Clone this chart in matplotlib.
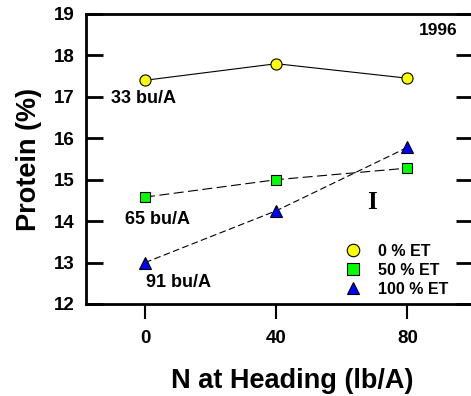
import matplotlib
matplotlib.use('Agg')
import matplotlib.pyplot as plt
from matplotlib.lines import Line2D

plt.rcParams['font.family'] = 'Liberation Sans'
plt.rcParams['font.weight'] = 'bold'

n_rate = [0, 40, 80]
et_0 = [17.4, 17.8, 17.45]
et_50 = [14.58, 15.0, 15.28]
et_100 = [13.0, 14.25, 15.78]
labels = ['0 % ET', '50 % ET', '100 % ET']
yields = ['33 bu/A', '65 bu/A', '91 bu/A']

W, H = 471, 396
fig = plt.figure(figsize=(W / 100, H / 100), dpi=100)
ax = fig.add_axes([86 / W, (H - 304) / H, (473 - 86) / W, 290 / H])

ax.plot(n_rate, et_0, '-', color='black', lw=0.8, marker='o', ms=8,
        mfc='#ffff00', mec='black', mew=0.8)
ax.plot(n_rate, et_50, color='black', lw=0.8, dashes=(9, 4), marker='s', ms=7.5,
        mfc='#00ff00', mec='black', mew=0.8)
ax.plot(n_rate, et_100, color='black', lw=0.8, dashes=(6, 3), marker='^', ms=9,
        mfc='#0000ff', mec='black', mew=0.8)

ax.set_xlim(-18, 100)
ax.set_ylim(12, 19)
ax.set_xticks(n_rate)
ax.set_yticks(range(12, 20))

for s in ['left', 'bottom', 'top']:
    ax.spines[s].set_linewidth(2)
ax.spines['right'].set_visible(False)
ax.tick_params(axis='y', direction='in', length=12, width=2, labelsize=13.5,
               right=True, pad=8)
ax.tick_params(axis='x', direction='out', length=11, width=1.5, labelsize=13.5, pad=8)

ax.set_xlabel('N at Heading (lb/A)', fontsize=19.5, fontweight='bold')
ax.set_ylabel('Protein (%)', fontsize=19.5, fontweight='bold', labelpad=9)
ax.xaxis.set_label_coords(0.532, -0.222, transform=ax.transAxes)

ax.text(-0.6, 16.95, yields[0], fontsize=13, fontweight='bold', ha='center', va='center')
ax.text(3.7, 14.05, yields[1], fontsize=13, fontweight='bold', ha='center', va='center')
ax.text(10.1, 12.51, yields[2], fontsize=13, fontweight='bold', ha='center', va='center')
ax.text(89.5, 18.59, '1996', fontsize=12.5, fontweight='bold', ha='center', va='center')
ax.text(69.3, 14.44, 'I', fontsize=18, fontweight='bold', family='Liberation Serif',
        ha='center', va='center')

handles = [
    Line2D([], [], ls='none', marker='o', ms=9, mfc='#ffff00', mec='black', mew=0.8),
    Line2D([], [], ls='none', marker='s', ms=8, mfc='#00ff00', mec='black', mew=0.8),
    Line2D([], [], ls='none', marker='^', ms=9, mfc='#0000ff', mec='black', mew=0.8),
]
leg = ax.legend(handles, labels, frameon=False, loc='upper left',
                bbox_to_anchor=(335 / W, (H - 236) / H), bbox_transform=fig.transFigure,
                prop={'size': 11.5, 'weight': 'bold'}, handlelength=1.2,
                handletextpad=1.0, labelspacing=0.25, borderpad=0)

fig.savefig('out.png', dpi=100)
